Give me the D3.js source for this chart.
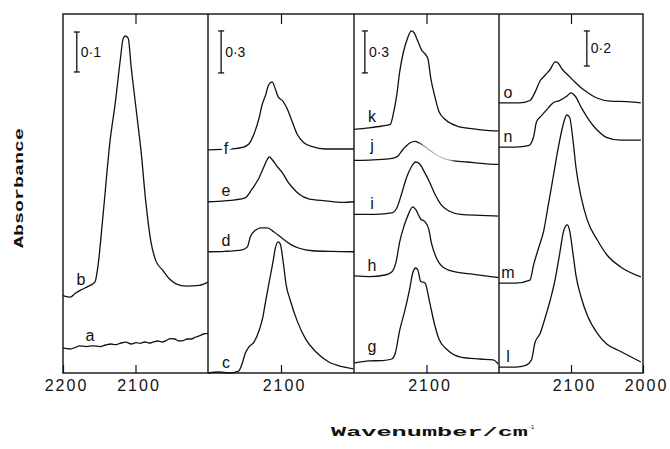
<!DOCTYPE html>
<html>
<head>
<meta charset="utf-8">
<script src="https://cdn.jsdelivr.net/npm/d3@7"></script>
<style>
  body { margin: 0; background: #fff; }
  svg { display: block; }
</style>
</head>
<body>
<svg id="chart" width="670" height="449"></svg>
<script>
// ---- IR spectra: [wavenumber / cm^-1, absorbance (incl. stacking offset)] ----
const specA = [[2200,0.062],[2190,0.060],[2183,0.064],[2177,0.068],[2168,0.066],[2159,0.068],[2149,0.066],[2141,0.070],[2134,0.0725],[2127,0.071],[2120,0.075],[2113,0.077],[2106,0.0725],[2099,0.076],[2094,0.074],[2087,0.0775],[2081,0.075],[2076,0.077],[2069,0.080],[2063,0.0775],[2058,0.081],[2052,0.086],[2046,0.085],[2040,0.080],[2034,0.081],[2029,0.085],[2023,0.085],[2017,0.090],[2011,0.0935],[2006,0.0975],[2000,0.099]];
const specB = [[2200,0.1935],[2190,0.1895],[2183,0.1995],[2175,0.208],[2166,0.216],[2156,0.227],[2152,0.2645],[2145,0.39],[2135,0.582],[2128,0.674],[2121,0.7825],[2117,0.8365],[2114,0.8425],[2110,0.8365],[2106,0.7655],[2099,0.6575],[2092,0.5485],[2086,0.4315],[2079,0.331],[2072,0.281],[2062,0.256],[2053,0.235],[2044,0.223],[2030,0.217],[2012,0.219],[2000,0.227]];
const specC = [[2200,0.0],[2185,0.007],[2172,0.0],[2158,0.014],[2153,0.071],[2149,0.139],[2144,0.186],[2137,0.221],[2130,0.304],[2125,0.396],[2121,0.514],[2116,0.654],[2111,0.793],[2108,0.886],[2104,0.936],[2101,0.921],[2097,0.793],[2093,0.631],[2087,0.514],[2078,0.374],[2066,0.24],[2052,0.15],[2035,0.08],[2016,0.045],[2001,0.03]];
const specD = [[2200,0.866],[2177,0.869],[2153,0.880],[2146,0.901],[2142,0.973],[2135,1.019],[2128,1.037],[2119,1.037],[2110,1.009],[2098,0.961],[2087,0.919],[2075,0.891],[2057,0.873],[2030,0.868],[2000,0.866]];
const specE = [[2200,1.223],[2177,1.23],[2163,1.237],[2149,1.251],[2140,1.311],[2130,1.394],[2124,1.466],[2119,1.523],[2116,1.544],[2112,1.523],[2105,1.473],[2098,1.43],[2091,1.369],[2084,1.323],[2075,1.276],[2062,1.244],[2039,1.23],[2016,1.218],[2000,1.223]];
const specF = [[2200,1.593],[2167,1.6],[2153,1.611],[2144,1.636],[2137,1.707],[2130,1.821],[2126,1.914],[2121,1.986],[2117,2.057],[2112,2.079],[2108,2.031],[2104,1.974],[2097,1.939],[2092,1.893],[2085,1.8],[2078,1.707],[2069,1.646],[2057,1.616],[2039,1.6],[2021,1.6],[2000,1.6]];
const specG = [[2200,0.071],[2179,0.086],[2161,0.089],[2148,0.1],[2143,0.143],[2137,0.304],[2130,0.443],[2123,0.607],[2119,0.714],[2115,0.75],[2112,0.736],[2108,0.654],[2102,0.643],[2096,0.514],[2089,0.35],[2083,0.245],[2071,0.164],[2053,0.114],[2026,0.1],[2008,0.093],[2001,0.064]];
const specH = [[2200,0.693],[2179,0.689],[2157,0.7],[2148,0.721],[2142,0.793],[2137,0.936],[2131,1.05],[2125,1.133],[2119,1.186],[2115,1.168],[2108,1.1],[2102,1.079],[2097,1.029],[2093,0.924],[2087,0.83],[2078,0.759],[2062,0.724],[2035,0.705],[2001,0.682]];
const specI = [[2200,1.133],[2170,1.133],[2148,1.143],[2141,1.179],[2134,1.286],[2128,1.389],[2121,1.471],[2115,1.507],[2110,1.496],[2103,1.436],[2096,1.366],[2088,1.273],[2080,1.203],[2069,1.157],[2053,1.133],[2026,1.126],[2001,1.121]];
const specJ = [[2200,1.518],[2179,1.521],[2152,1.529],[2141,1.543],[2132,1.6],[2123,1.643],[2116,1.654],[2110,1.643],[2098,1.6],[2085,1.553],[2067,1.518],[2044,1.507],[2017,1.494],[2001,1.49]];
const specK = [[2200,1.74],[2179,1.751],[2161,1.764],[2150,1.775],[2146,1.845],[2141,1.986],[2137,2.15],[2132,2.289],[2126,2.393],[2121,2.443],[2117,2.429],[2112,2.371],[2106,2.3],[2102,2.279],[2098,2.243],[2094,2.102],[2088,1.964],[2083,1.869],[2074,1.81],[2058,1.764],[2035,1.744],[2017,1.733],[2001,1.729]];
const specL = [[2200,0.034],[2177,0.034],[2163,0.043],[2155,0.074],[2150,0.174],[2143,0.224],[2136,0.314],[2129,0.414],[2122,0.535],[2116,0.675],[2110,0.815],[2105,0.846],[2102,0.815],[2097,0.675],[2093,0.555],[2086,0.434],[2077,0.325],[2063,0.224],[2050,0.164],[2031,0.123],[2003,0.063]];
const specM = [[2200,0.514],[2177,0.514],[2157,0.531],[2152,0.617],[2145,0.714],[2138,0.811],[2132,0.949],[2125,1.114],[2118,1.28],[2111,1.417],[2106,1.474],[2102,1.461],[2097,1.322],[2093,1.171],[2086,1.006],[2077,0.869],[2063,0.757],[2050,0.674],[2031,0.606],[2003,0.549]];
const specN = [[2200,1.291],[2177,1.291],[2159,1.299],[2152,1.348],[2148,1.434],[2141,1.470],[2132,1.512],[2125,1.543],[2116,1.556],[2106,1.581],[2100,1.600],[2094,1.581],[2086,1.519],[2077,1.458],[2063,1.385],[2050,1.345],[2031,1.33],[2003,1.33]];
const specO = [[2200,1.543],[2172,1.543],[2157,1.557],[2150,1.603],[2143,1.668],[2136,1.701],[2129,1.734],[2122,1.778],[2118,1.771],[2112,1.734],[2104,1.701],[2095,1.664],[2086,1.630],[2077,1.603],[2064,1.571],[2045,1.553],[2022,1.550],[2003,1.543]];

// series letters shown in each panel, left to right
const panelSeries = [["a","b"], ["c","d","e","f"], ["g","h","i","j","k"], ["l","m","n","o"]];
// wavenumber tick labels along the bottom of each panel
const wavenumberTicks = [[2200, 2100], [2100], [2100], [2100, 2000]];
// absorbance scale bar in each panel
const scaleBarValues = [0.1, 0.3, 0.3, 0.2];
const scaleBarLabels = ["0·1", "0·3", "0·3", "0·2"];

const spectra = { a: specA, b: specB, c: specC, d: specD, e: specE, f: specF, g: specG, h: specH,
                  i: specI, j: specJ, k: specK, l: specL, m: specM, n: specN, o: specO };

// ---- layout ----
const edges = [63, 208, 354, 499, 643];      // panel borders (px)
const plotTop = 14, plotBottom = 373;
const absMax = [0.8975, 2.564, 2.564, 2.051]; // absorbance at the top edge of each panel
const barAnchor = [[2181, 0.8525], [2182, 2.443], [2185, 2.443], [2078, 1.954]]; // bar x, bar top
const labelInset = [18, 18, 18, 9];
const labelNudge = { a: 9 };
const inlineLabels = new Set(["f"]);         // letters written across their own trace
const ink = "#111";
const sans = "'Liberation Sans', Arial, sans-serif";

const svg = d3.select("#chart");
const defs = svg.append("defs");

panelSeries.forEach((series, p) => {
  const x = d3.scaleLinear().domain([2200, 2000]).range([edges[p], edges[p + 1]]);
  const y = d3.scaleLinear().domain([0, absMax[p]]).range([plotBottom, plotTop]);
  const g = svg.append("g").attr("class", "panel");

  // bottom ticks (pointing inward) with labels
  const bottom = g.append("g")
    .attr("transform", `translate(0,${plotBottom})`)
    .call(d3.axisBottom(x).tickValues(wavenumberTicks[p]).tickSizeInner(-8).tickSizeOuter(0)
      .tickPadding(7).tickFormat(d3.format("d")));
  bottom.select(".domain").remove();
  bottom.selectAll("line").attr("stroke", ink).attr("stroke-width", 1.2);
  bottom.selectAll("text")
    .attr("fill", ink)
    .attr("dx", 3)
    .style("font-family", sans)
    .style("font-size", "16px")
    .style("letter-spacing", "2px");

  // top tick
  const top = g.append("g")
    .attr("transform", `translate(0,${plotTop})`)
    .call(d3.axisTop(x).tickValues([2100]).tickSizeInner(-10).tickSizeOuter(0).tickFormat(() => ""));
  top.select(".domain").remove();
  top.selectAll("line").attr("stroke", ink).attr("stroke-width", 1.2);

  // spectra
  const line = d3.line().x(d => x(d[0])).y(d => y(d[1])).curve(d3.curveMonotoneX);
  series.forEach(key => {
    let stroke = ink;
    if (key === "j") {
      // the j trace fades out on the low-wavenumber side of its band
      const grad = defs.append("linearGradient")
        .attr("id", "fadeJ").attr("gradientUnits", "userSpaceOnUse")
        .attr("x1", x(2200)).attr("x2", x(2000)).attr("y1", 0).attr("y2", 0);
      [[0, ink], [0.44, ink], [0.48, "#999"], [0.58, "#c4c4c4"], [0.66, "#aaa"], [0.71, ink], [1, ink]]
        .forEach(([o, c]) => grad.append("stop").attr("offset", o).attr("stop-color", c));
      stroke = "url(#fadeJ)";
    }
    g.append("path")
      .datum(spectra[key])
      .attr("d", line)
      .attr("fill", "none")
      .attr("stroke", stroke)
      .attr("stroke-width", 1.3)
      .attr("stroke-linejoin", "round");

    // curve letter, placed from the trace height at its x position
    const lx = edges[p] + labelInset[p] + (labelNudge[key] || 0);
    const wn = x.invert(lx);
    const data = spectra[key];
    let a = data[0][1];
    for (let k = 0; k < data.length - 1; k++) {
      const [w0, a0] = data[k], [w1, a1] = data[k + 1];
      if (wn <= w0 && wn >= w1) { a = a0 + (a1 - a0) * (w0 - wn) / (w0 - w1); break; }
    }
    const inline = inlineLabels.has(key);
    const drop = inline ? -5 : (/[gjpqy]/.test(key) ? 9 : 5);
    const t = g.append("text")
      .attr("x", lx).attr("y", y(a) - drop)
      .attr("text-anchor", "middle")
      .attr("fill", ink)
      .style("font-family", sans)
      .style("font-size", "16px")
      .text(key);
    if (inline) t.attr("stroke", "#fff").attr("stroke-width", 6).attr("paint-order", "stroke");
  });

  // absorbance scale bar
  const [bw, bTop] = barAnchor[p];
  const bx = x(bw), by1 = y(bTop), by2 = y(bTop - scaleBarValues[p]);
  const bar = g.append("g").attr("stroke", ink).attr("stroke-width", 1.3);
  bar.append("line").attr("x1", bx).attr("x2", bx).attr("y1", by1).attr("y2", by2);
  bar.append("line").attr("x1", bx - 3).attr("x2", bx + 3).attr("y1", by1).attr("y2", by1);
  bar.append("line").attr("x1", bx - 3).attr("x2", bx + 3).attr("y1", by2).attr("y2", by2);
  g.append("text")
    .attr("x", bx + 4).attr("y", (by1 + by2) / 2 + 5)
    .attr("fill", ink)
    .style("font-family", sans)
    .style("font-size", "14px")
    .text(scaleBarLabels[p]);
});

// panel frame and dividers
const frame = svg.append("g").attr("stroke", ink).attr("stroke-width", 1.4).attr("fill", "none");
frame.append("rect")
  .attr("x", edges[0]).attr("y", plotTop)
  .attr("width", edges[4] - edges[0]).attr("height", plotBottom - plotTop);
edges.slice(1, 4).forEach(e =>
  frame.append("line").attr("x1", e).attr("x2", e).attr("y1", plotTop).attr("y2", plotBottom));

// axis titles
const titleFont = "'Liberation Mono', 'DejaVu Sans Mono', monospace";
svg.append("text")
  .attr("transform", "translate(23,188) rotate(-90)")
  .attr("text-anchor", "middle")
  .attr("textLength", 120).attr("lengthAdjust", "spacingAndGlyphs")
  .attr("fill", ink)
  .style("font-family", titleFont).style("font-weight", "bold").style("font-size", "13px")
  .text("Absorbance");
svg.append("text")
  .attr("x", 331).attr("y", 436)
  .attr("textLength", 197).attr("lengthAdjust", "spacingAndGlyphs")
  .attr("fill", ink)
  .style("font-family", titleFont).style("font-weight", "bold").style("font-size", "13px")
  .text("Wavenumber/cm");
svg.append("text")
  .attr("x", 529).attr("y", 429)
  .attr("fill", ink)
  .style("font-family", sans).style("font-size", "6px")
  .text("-1");
</script>
</body>
</html>
